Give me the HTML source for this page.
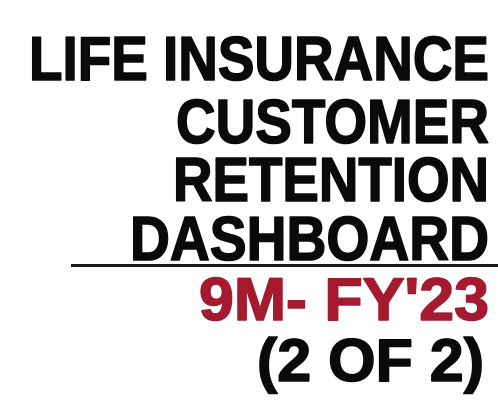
<!DOCTYPE html>
<html>
<head>
<meta charset="utf-8">
<style>
  html,body{margin:0;padding:0;background:#fff;}
  svg{display:block;}
  text{font-family:"Liberation Sans",sans-serif;font-weight:bold;stroke-width:1.6;stroke-linejoin:round;}
</style>
</head>
<body>
<svg width="498" height="410" viewBox="0 0 498 410">
  <rect x="0" y="0" width="498" height="410" fill="#fff"/>
  <text x="29" y="80" font-size="62" fill="#0a0a0a" stroke="#0a0a0a" textLength="460" lengthAdjust="spacingAndGlyphs">LIFE INSURANCE</text>
  <text x="176" y="143" font-size="62" fill="#0a0a0a" stroke="#0a0a0a" textLength="313" lengthAdjust="spacingAndGlyphs">CUSTOMER</text>
  <text x="173" y="201" font-size="62" fill="#0a0a0a" stroke="#0a0a0a" textLength="316" lengthAdjust="spacingAndGlyphs">RETENTION</text>
  <text x="130" y="260" font-size="62" fill="#0a0a0a" stroke="#0a0a0a" textLength="359" lengthAdjust="spacingAndGlyphs">DASHBOARD</text>
  <rect x="71" y="264" width="427" height="3" fill="#1a1a1a"/>
  <text x="199" y="320" font-size="60" fill="#a51a2e" stroke="#a51a2e" textLength="290" lengthAdjust="spacingAndGlyphs">9M- FY'23</text>
  <text x="257" y="381" font-size="60" fill="#0a0a0a" stroke="#0a0a0a" textLength="227" lengthAdjust="spacingAndGlyphs">(2 OF 2)</text>
</svg>
</body>
</html>
